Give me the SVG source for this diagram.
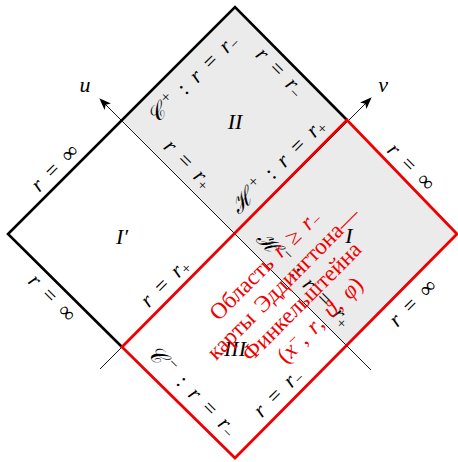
<svg xmlns="http://www.w3.org/2000/svg" width="458" height="462" viewBox="0 0 458 462">
<style>
.thick{fill:none;stroke:#000;stroke-width:2.6;stroke-linejoin:miter}
.red{fill:none;stroke:#ee0000;stroke-width:2.8;stroke-linejoin:miter}
.thin{fill:none;stroke:#000;stroke-width:0.9}
.m{font-family:"Liberation Serif","DejaVu Serif",serif;font-style:italic;font-size:22px;fill:#000;word-spacing:5px}
.up{font-style:normal}
.sb{font-style:normal;font-size:15px}
.sp{font-style:normal;font-size:16px}
.rt{font-family:"Liberation Serif","DejaVu Serif",serif;font-size:23px;fill:#ee0000;word-spacing:3px}
</style>
<defs>
<marker id="arr" viewBox="0 0 12 10" refX="11" refY="5" markerWidth="12" markerHeight="10" markerUnits="userSpaceOnUse" orient="auto">
<path d="M0,0.5 L12,5 L0,9.5 L3,5 z" fill="#000"/>
</marker>
</defs>
<g id="shade">
<polygon points="122,120 235,7 347,120 458,234 347,347 235,234" fill="#ebebeb"/>
</g>
<g id="connectors">
<line class="thin" x1="371" y1="370" x2="100" y2="99" marker-end="url(#arr)"/>
<line class="thin" x1="100" y1="369" x2="371" y2="98" marker-end="url(#arr)"/>
<polyline class="thick" points="347,120 235,7 8,234 122,347"/>
<polygon class="red" points="122,347 347,120 457,234 235,458"/>
</g>
<g id="labels">
<text class="m" transform="translate(85,85)" text-anchor="middle" dy="0.3em">u</text>
<text class="m" transform="translate(383,85)" text-anchor="middle" dy="0.3em">v</text>
<text class="m" transform="translate(235,121)" text-anchor="middle" dy="0.35em">II</text>
<text class="m" transform="translate(122,236)" text-anchor="middle" dy="0.35em">I′</text>
<text class="m" transform="translate(349,235)" text-anchor="middle" dy="0.35em">I</text>
<text class="m" transform="translate(235,348)" text-anchor="middle" dy="0.35em">III</text>
<text class="m" transform="translate(55,168) rotate(-45)" text-anchor="middle" dy="0.3em">r <tspan class="up">=</tspan> <tspan class="up">∞</tspan></text>
<text class="m" transform="translate(193,79) rotate(-45)" text-anchor="middle" dy="0.3em">𝒞<tspan class="sp" dx="6" dy="-8">+</tspan> <tspan class="up" dy="8">:</tspan> r <tspan class="up">=</tspan> r<tspan class="sb" dy="3">−</tspan></text>
<text class="m" transform="translate(280,72) rotate(45)" text-anchor="middle" dy="0.3em">r <tspan class="up">=</tspan> r<tspan class="sb" dy="3">−</tspan></text>
<text class="m" transform="translate(188,164) rotate(45)" text-anchor="middle" dy="0.3em">r <tspan class="up">=</tspan> r<tspan class="sb" dy="3">+</tspan></text>
<text class="m" transform="translate(278,166) rotate(-45)" text-anchor="middle" dy="0.3em">ℋ<tspan class="sp" dx="6" dy="-8">+</tspan> <tspan class="up" dy="8">:</tspan> r <tspan class="up">=</tspan> r<tspan class="sb" dy="3">+</tspan></text>
<text class="m" transform="translate(411,167) rotate(45)" text-anchor="middle" dy="0.3em">r <tspan class="up">=</tspan> <tspan class="up">∞</tspan></text>
<text class="m" transform="translate(304,279) rotate(45)" text-anchor="middle" dy="0.3em">ℋ<tspan class="sp" dx="6" dy="-8">−</tspan> <tspan class="up" dy="8">:</tspan> r <tspan class="up">=</tspan> r<tspan class="sb" dy="3">+</tspan></text>
<text class="m" transform="translate(165,283) rotate(-45)" text-anchor="middle" dy="0.3em">r <tspan class="up">=</tspan> r<tspan class="sb" dy="3">+</tspan></text>
<text class="m" transform="translate(52,298) rotate(45)" text-anchor="middle" dy="0.3em">r <tspan class="up">=</tspan> <tspan class="up">∞</tspan></text>
<text class="m" transform="translate(413,303) rotate(-45)" text-anchor="middle" dy="0.3em">r <tspan class="up">=</tspan> <tspan class="up">∞</tspan></text>
<text class="m" transform="translate(192,391) rotate(45)" text-anchor="middle" dy="0.3em">𝒞<tspan class="sp" dx="6" dy="-8">−</tspan> <tspan class="up" dy="8">:</tspan> r <tspan class="up">=</tspan> r<tspan class="sb" dy="3">−</tspan></text>
<text class="m" transform="translate(278,393) rotate(-45)" text-anchor="middle" dy="0.3em">r <tspan class="up">=</tspan> r<tspan class="sb" dy="3">−</tspan></text>
</g>
<g id="region-note" transform="translate(292,292) rotate(-45)">
<text class="rt" x="0" y="-31" text-anchor="middle">Область <tspan font-style="italic">r</tspan> ≥ <tspan font-style="italic">r</tspan><tspan font-size="16" dy="3">−</tspan></text>
<text class="rt" x="0" y="-5" text-anchor="middle">карты Эддингтона—</text>
<text class="rt" x="0" y="21" text-anchor="middle">Финкельштейна</text>
<text class="rt" x="0" y="47" text-anchor="middle">(<tspan font-style="italic">x</tspan><tspan font-size="16" dy="-8">−</tspan><tspan dy="8">,</tspan> <tspan font-style="italic">r</tspan>, <tspan font-style="italic">ϑ</tspan>, <tspan font-style="italic">φ</tspan>)</text>
</g>
</svg>
